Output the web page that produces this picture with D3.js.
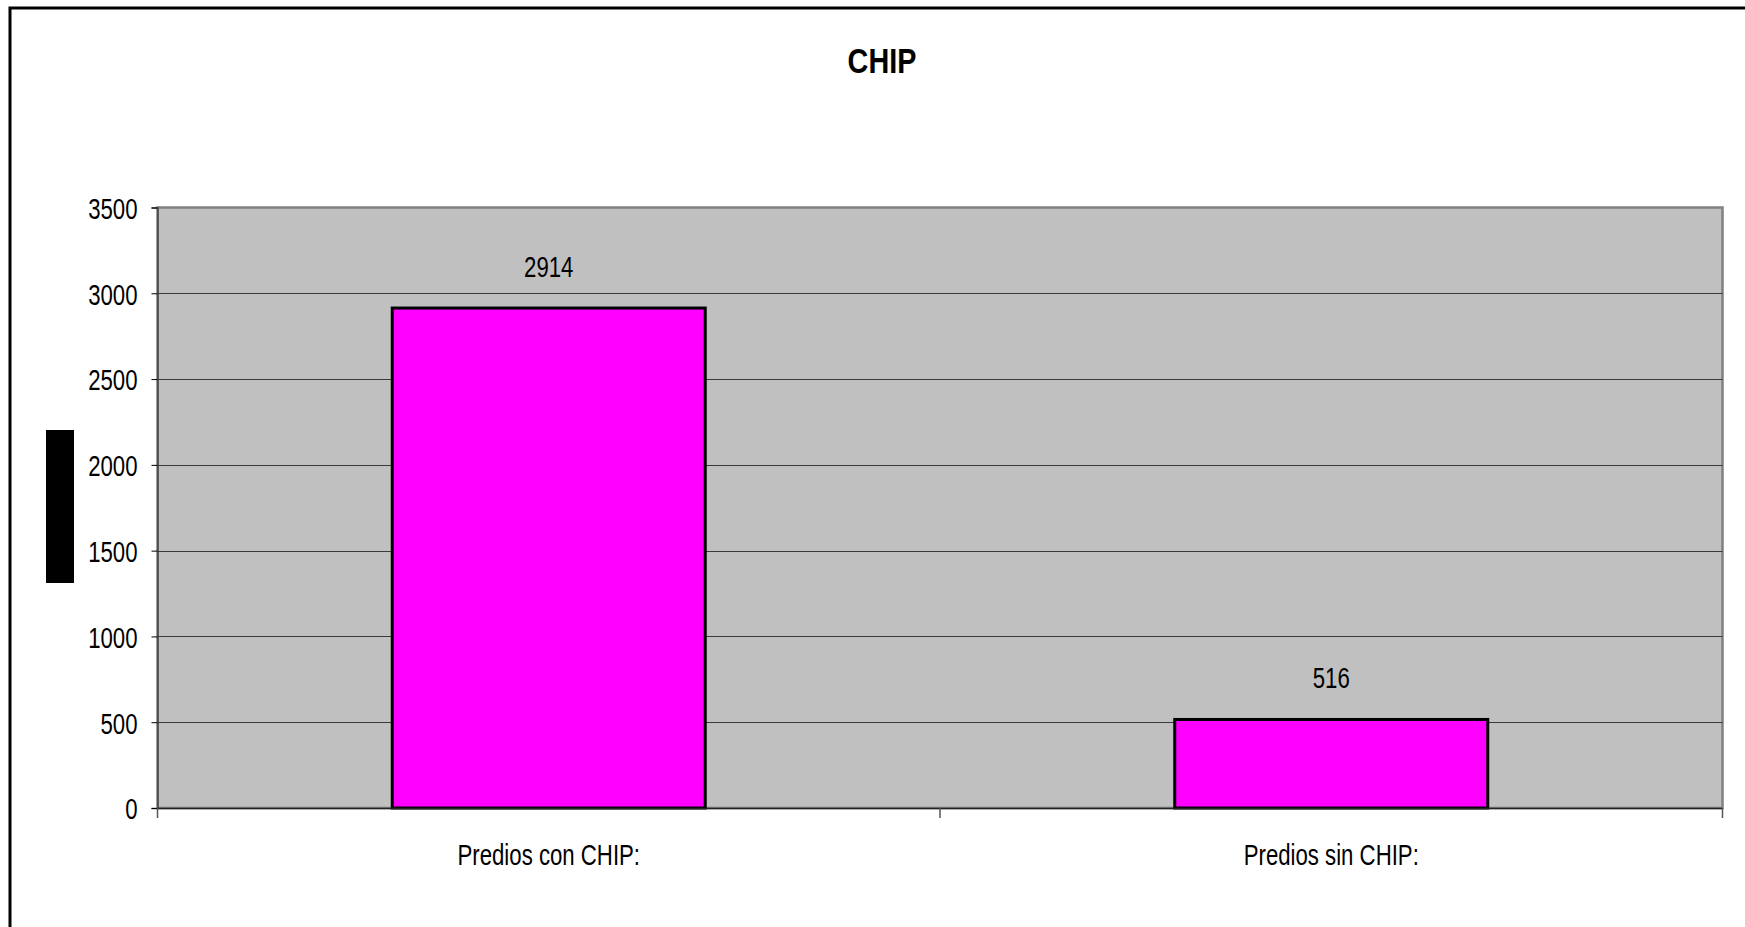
<!DOCTYPE html>
<meta charset="utf-8">
<style>
    body { margin: 0; background: #ffffff; }
    svg { display: block; font-family: "Liberation Sans", Arial, sans-serif; }
</style>

<script src="https://d3js.org/d3.v7.min.js"></script>

<svg id="chart" width="1745" height="927"></svg>

<script>

// Data
var categories = ['Predios con CHIP:', 'Predios sin CHIP:'];
var values = [2914, 516];
var yTicks = [0, 500, 1000, 1500, 2000, 2500, 3000, 3500];
var title = 'CHIP';

// Setup
var svg = d3.select('svg#chart');

var plot = { left: 157.5, top: 207.5, right: 1722.5, bottom: 808 };
var squeeze = 0.74;   // the text in the original is horizontally condensed

var x = d3.scaleBand()
    .domain(categories)
    .range([plot.left, plot.right])
    .paddingInner(0.6)
    .paddingOuter(0.3);

var y = d3.scaleLinear()
    .domain([0, 3500])
    .range([plot.bottom, plot.top]);

var condensedText = function (sel, px, py, txt, size, anchor, weight, sx) {
    sel.append('text')
        .attr('transform', 'translate(' + px + ',' + py + ') scale(' + (sx || squeeze) + ',1)')
        .attr('text-anchor', anchor)
        .attr('font-size', size)
        .attr('font-weight', weight || 'normal')
        .attr('fill', '#000')
        .text(txt);
};

// Outer chart border
svg.append('rect')
    .attr('x', 10).attr('y', 8)
    .attr('width', 1800).attr('height', 1000)
    .attr('fill', '#fff')
    .attr('stroke', '#000')
    .attr('stroke-width', 3);

// Title
condensedText(svg, 882, 73, title, 36, 'middle', 'bold', 0.8);

// Redacted axis title block
svg.append('rect')
    .attr('x', 46).attr('y', 430)
    .attr('width', 28).attr('height', 153)
    .attr('fill', '#000');

// Plot area
svg.append('rect')
    .attr('x', plot.left).attr('y', plot.top)
    .attr('width', plot.right - plot.left)
    .attr('height', plot.bottom - plot.top)
    .attr('fill', '#c0c0c0')
    .attr('stroke', '#808080')
    .attr('stroke-width', 2.5);

// Gridlines
svg.append('g')
    .selectAll('line')
    .data(yTicks.filter(function (d) { return d > 0 && d < 3500; }))
    .enter().append('line')
    .attr('x1', plot.left).attr('x2', plot.right)
    .attr('y1', function (d) { return Math.round(y(d)) + 0.5; })
    .attr('y2', function (d) { return Math.round(y(d)) + 0.5; })
    .attr('stroke', '#3a3a3a')
    .attr('stroke-width', 1);

// Y axis
var yAxis = svg.append('g')
    .attr('transform', 'translate(' + plot.left + ',0)')
    .call(d3.axisLeft(y).tickValues(yTicks).tickSize(6).tickPadding(14).tickFormat(d3.format('d')));
yAxis.select('.domain').attr('stroke', '#444').attr('stroke-width', 1.5);
yAxis.selectAll('.tick line').attr('stroke', '#000');
yAxis.selectAll('.tick text')
    .attr('font-size', 30)
    .attr('font-family', '"Liberation Sans", Arial, sans-serif')
    .attr('fill', '#000')
    .attr('dy', '0.36em')
    .attr('transform', 'scale(' + squeeze + ',1)')
    .attr('x', -20 / squeeze);

// Bars
svg.append('g')
    .selectAll('rect')
    .data(values)
    .enter().append('rect')
    .attr('x', function (d, i) { return x(categories[i]); })
    .attr('y', function (d) { return y(d); })
    .attr('width', x.bandwidth())
    .attr('height', function (d) { return y(0) - y(d); })
    .attr('fill', '#ff00ff')
    .attr('stroke', '#000')
    .attr('stroke-width', 3);

// Value labels
var labels = svg.append('g');
values.forEach(function (v, i) {
    condensedText(labels, x(categories[i]) + x.bandwidth() / 2, y(v) - 31, String(v), 30, 'middle');
});

// X axis line and category ticks
svg.append('line')
    .attr('x1', plot.left).attr('x2', plot.right)
    .attr('y1', plot.bottom + 0.5).attr('y2', plot.bottom + 0.5)
    .attr('stroke', '#222').attr('stroke-width', 1.5);

svg.append('g')
    .selectAll('line')
    .data(d3.range(categories.length + 1))
    .enter().append('line')
    .attr('x1', function (i) { return plot.left + i * x.step(); })
    .attr('x2', function (i) { return plot.left + i * x.step(); })
    .attr('y1', plot.bottom).attr('y2', plot.bottom + 10)
    .attr('stroke', '#555').attr('stroke-width', 1.5);

// Category labels
var cats = svg.append('g');
categories.forEach(function (c) {
    condensedText(cats, x(c) + x.bandwidth() / 2, plot.bottom + 57, c, 30, 'middle');
});

</script>
